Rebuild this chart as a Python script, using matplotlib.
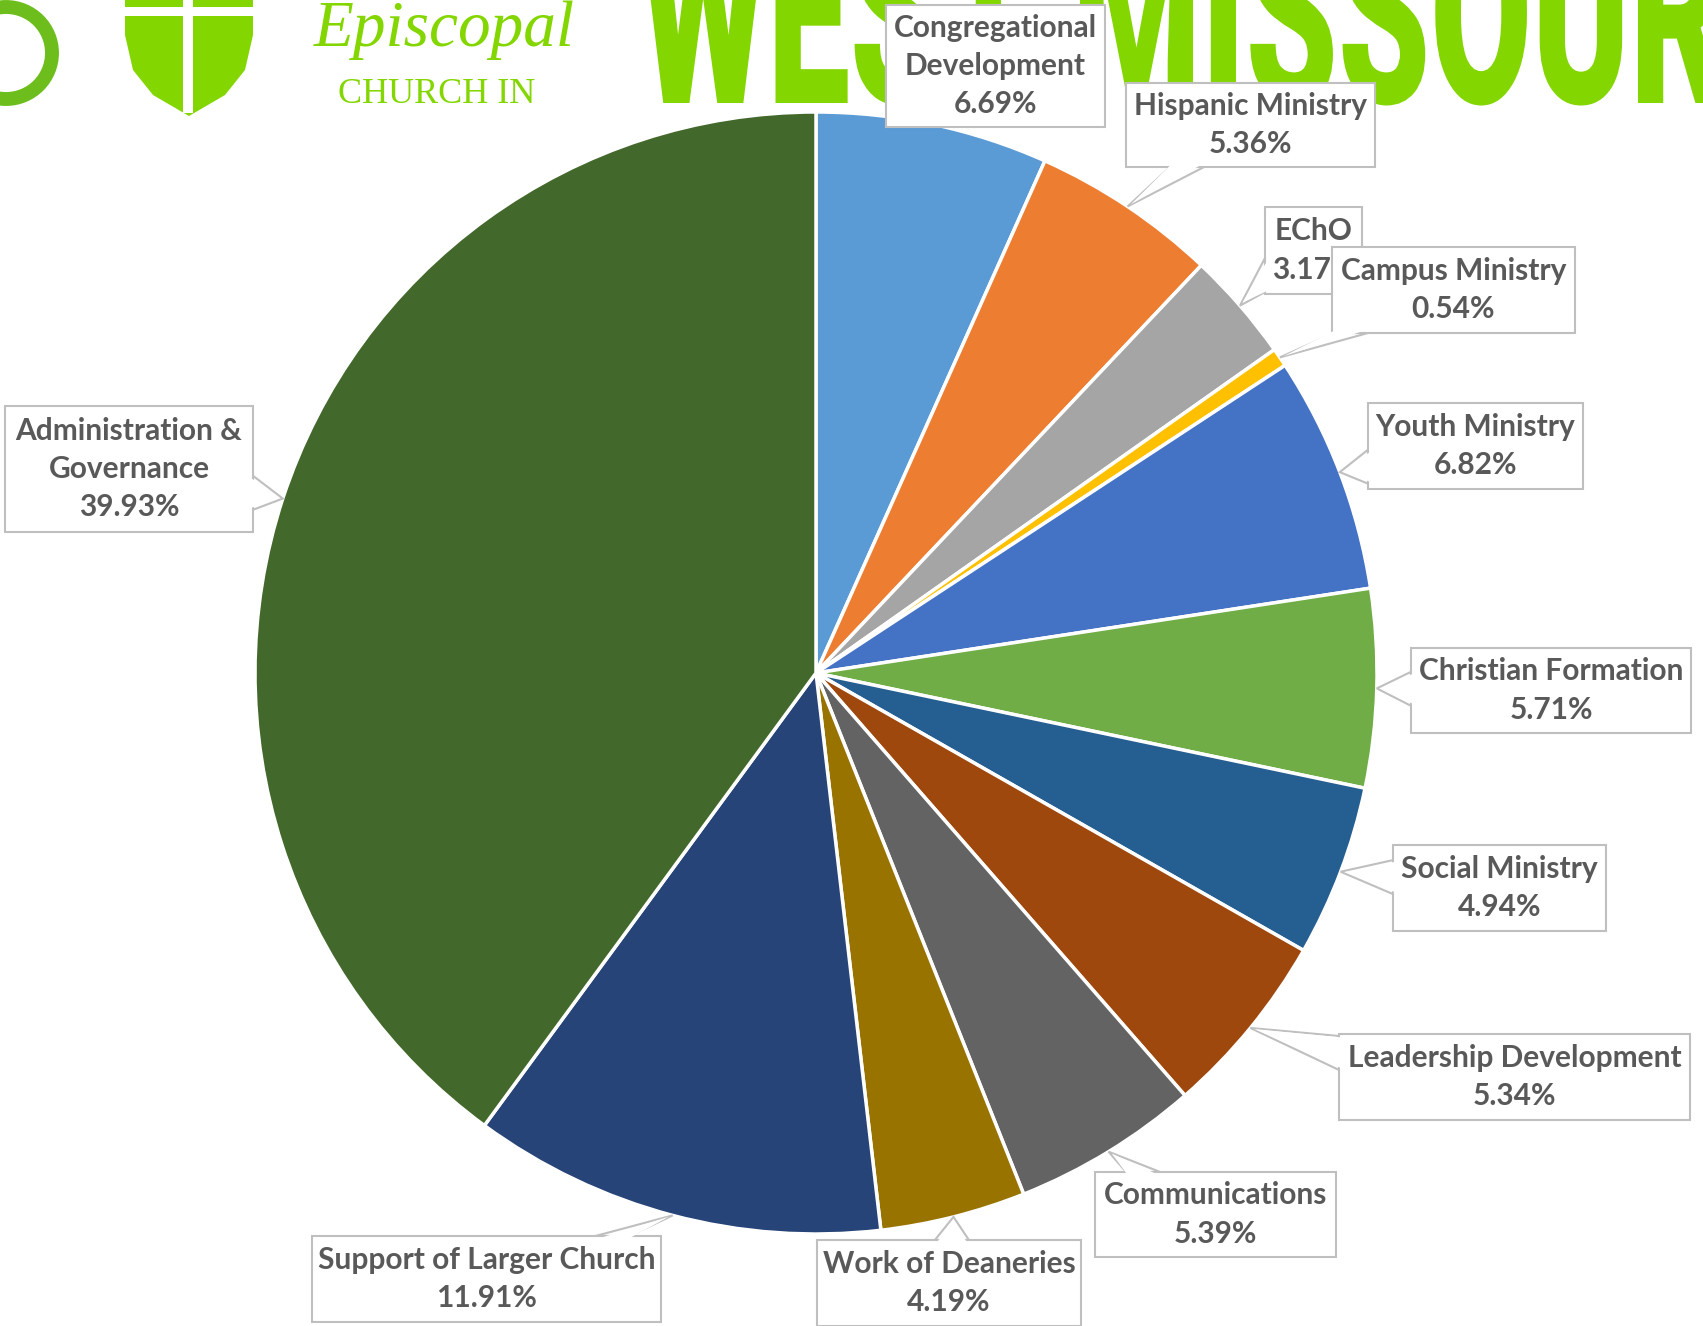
import numpy as np
import matplotlib
matplotlib.use("Agg")
import matplotlib.pyplot as plt
from matplotlib.patches import Polygon, Rectangle, PathPatch, Circle
from matplotlib.textpath import TextPath
from matplotlib.font_manager import FontProperties
from matplotlib.transforms import Affine2D

W, H = 1703, 1326

categories = ["Congregational\nDevelopment", "Hispanic Ministry", "EChO",
              "Campus Ministry", "Youth Ministry", "Christian Formation",
              "Social Ministry", "Leadership Development", "Communications",
              "Work of Deaneries", "Support of Larger Church",
              "Administration &\nGovernance"]
shares = [6.69, 5.36, 3.17, 0.54, 6.82, 5.71, 4.94, 5.34, 5.39, 4.19, 11.91, 39.93]
colors = ["#5B9BD5", "#ED7D31", "#A5A5A5", "#FFC000", "#4472C4", "#70AD47",
          "#255E91", "#9E480E", "#636363", "#997300", "#264478", "#43682B"]

# label boxes: left, top, right, bottom (image pixels, y from top)
boxes = [(886, 5, 1105, 127), (1126, 83, 1375, 167), (1265, 207, 1362, 294),
         (1332, 247, 1575, 333), (1368, 403, 1583, 489), (1411, 648, 1691, 733),
         (1393, 845, 1606, 931), (1339, 1034, 1690, 1120), (1095, 1172, 1336, 1257),
         (817, 1240, 1081, 1326), (312, 1236, 661, 1322), (5, 406, 253, 532)]

green = "#84D600"
edge = "#BFBFBF"

fig = plt.figure(figsize=(W / 100, H / 100), dpi=100)
ax = fig.add_axes([0, 0, 1, 1])

# ---- background logo ----
ax.add_patch(Circle((6, H - 53), 46, fill=False, ec="#6DBE1C", lw=10, zorder=1))
shield = [(125, H), (253, H), (253, H - 35), (245, H - 70), (225, H - 95),
          (189, H - 116), (153, H - 95), (133, H - 70), (125, H - 35)]
ax.add_patch(Polygon(shield, closed=True, fc=green, ec="none", zorder=1))
ax.add_patch(Rectangle((183, H - 113), 10, 113, fc="white", ec="none", zorder=1.1))
ax.add_patch(Rectangle((125, H - 16), 128, 9, fc="white", ec="none", zorder=1.1))

ax.text(444, H - 46, "Episcopal", family="Liberation Serif", style="italic",
        fontsize=47, color=green, ha="center", va="baseline", zorder=1)
ax.text(437, H - 103, "CHURCH IN", family="Liberation Serif", fontsize=26,
        color=green, ha="center", va="baseline", zorder=1)

tp = TextPath((0, 0), "WEST MISSOURI", size=100,
              prop=FontProperties(family="Roboto", weight="black"))
ext = tp.get_extents()
sx = 1120 / ext.width
sy = 185 / ext.ymax
trans = Affine2D().translate(-ext.xmin, 0).scale(sx, sy).translate(641, H - 103)
ax.add_patch(PathPatch(trans.transform_path(tp), fc=green, ec="none", zorder=1))

# ---- pie ----
cx, cy, R = 816, H - 673, 561
wedges, _ = ax.pie(shares, colors=colors, startangle=90, counterclock=False,
                   center=(cx, cy), radius=R,
                   wedgeprops=dict(edgecolor="white", linewidth=2.5))
for w in wedges:
    w.set_zorder(3)


def callout(box, tip, text, z):
    l, t, r, b = box
    x0, x1, y0, y1 = l, r, H - b, H - t
    bx, by = (x0 + x1) / 2, (y0 + y1) / 2
    tx, ty = tip
    ax.add_patch(Rectangle((x0, y0), x1 - x0, y1 - y0, fc="white", ec=edge,
                           lw=1.5, zorder=z))
    if not (x0 <= tx <= x1 and y0 <= ty <= y1):
        dx, dy = tx - bx, ty - by
        kx = (x1 - x0) / 2 / abs(dx) if dx else np.inf
        ky = (y1 - y0) / 2 / abs(dy) if dy else np.inf
        hw = 17
        if kx < ky:
            px = bx + dx * kx
            py = np.clip(by + dy * kx, y0 + hw + 2, y1 - hw - 2)
            b0, b1 = (px, py - hw), (px, py + hw)
            inward = (-np.sign(dx) * 3, 0)
            along = (0, 1.5)
        else:
            py = by + dy * ky
            px = np.clip(bx + dx * ky, x0 + hw + 2, x1 - hw - 2)
            b0, b1 = (px - hw, py), (px + hw, py)
            inward = (0, -np.sign(dy) * 3)
            along = (1.5, 0)
        ax.add_patch(Polygon([b0, (tx, ty), b1], closed=True, fc="white",
                             ec=edge, lw=1.5, zorder=z - 0.5))
        mx, my = (b0[0] + b1[0]) / 2, (b0[1] + b1[1]) / 2
        d = np.hypot(mx - tx, my - ty)
        ux, uy = (mx - tx) / d, (my - ty) / d
        cover = [(b0[0] + along[0] + inward[0], b0[1] + along[1] + inward[1]),
                 (tx + ux * 4, ty + uy * 4),
                 (b1[0] - along[0] + inward[0], b1[1] - along[1] + inward[1])]
        ax.add_patch(Polygon(cover, closed=True, fc="white", ec="none",
                             zorder=z + 0.1))
    ax.text(bx, by, text, family="Lato", weight="bold", fontsize=21.5,
            color="#595959", ha="center", va="center", ma="center",
            linespacing=1.45, zorder=z + 0.2)


for i, (w, name, v, box) in enumerate(zip(wedges, categories, shares, boxes)):
    mid = np.deg2rad((w.theta1 + w.theta2) / 2)
    tip = (cx + R * np.cos(mid), cy + R * np.sin(mid))
    callout(box, tip, f"{name}\n{v:.2f}%", 10 + 3 * i)

ax.set_xlim(0, W)
ax.set_ylim(0, H)
ax.axis("off")
fig.savefig("out.png", dpi=100)
